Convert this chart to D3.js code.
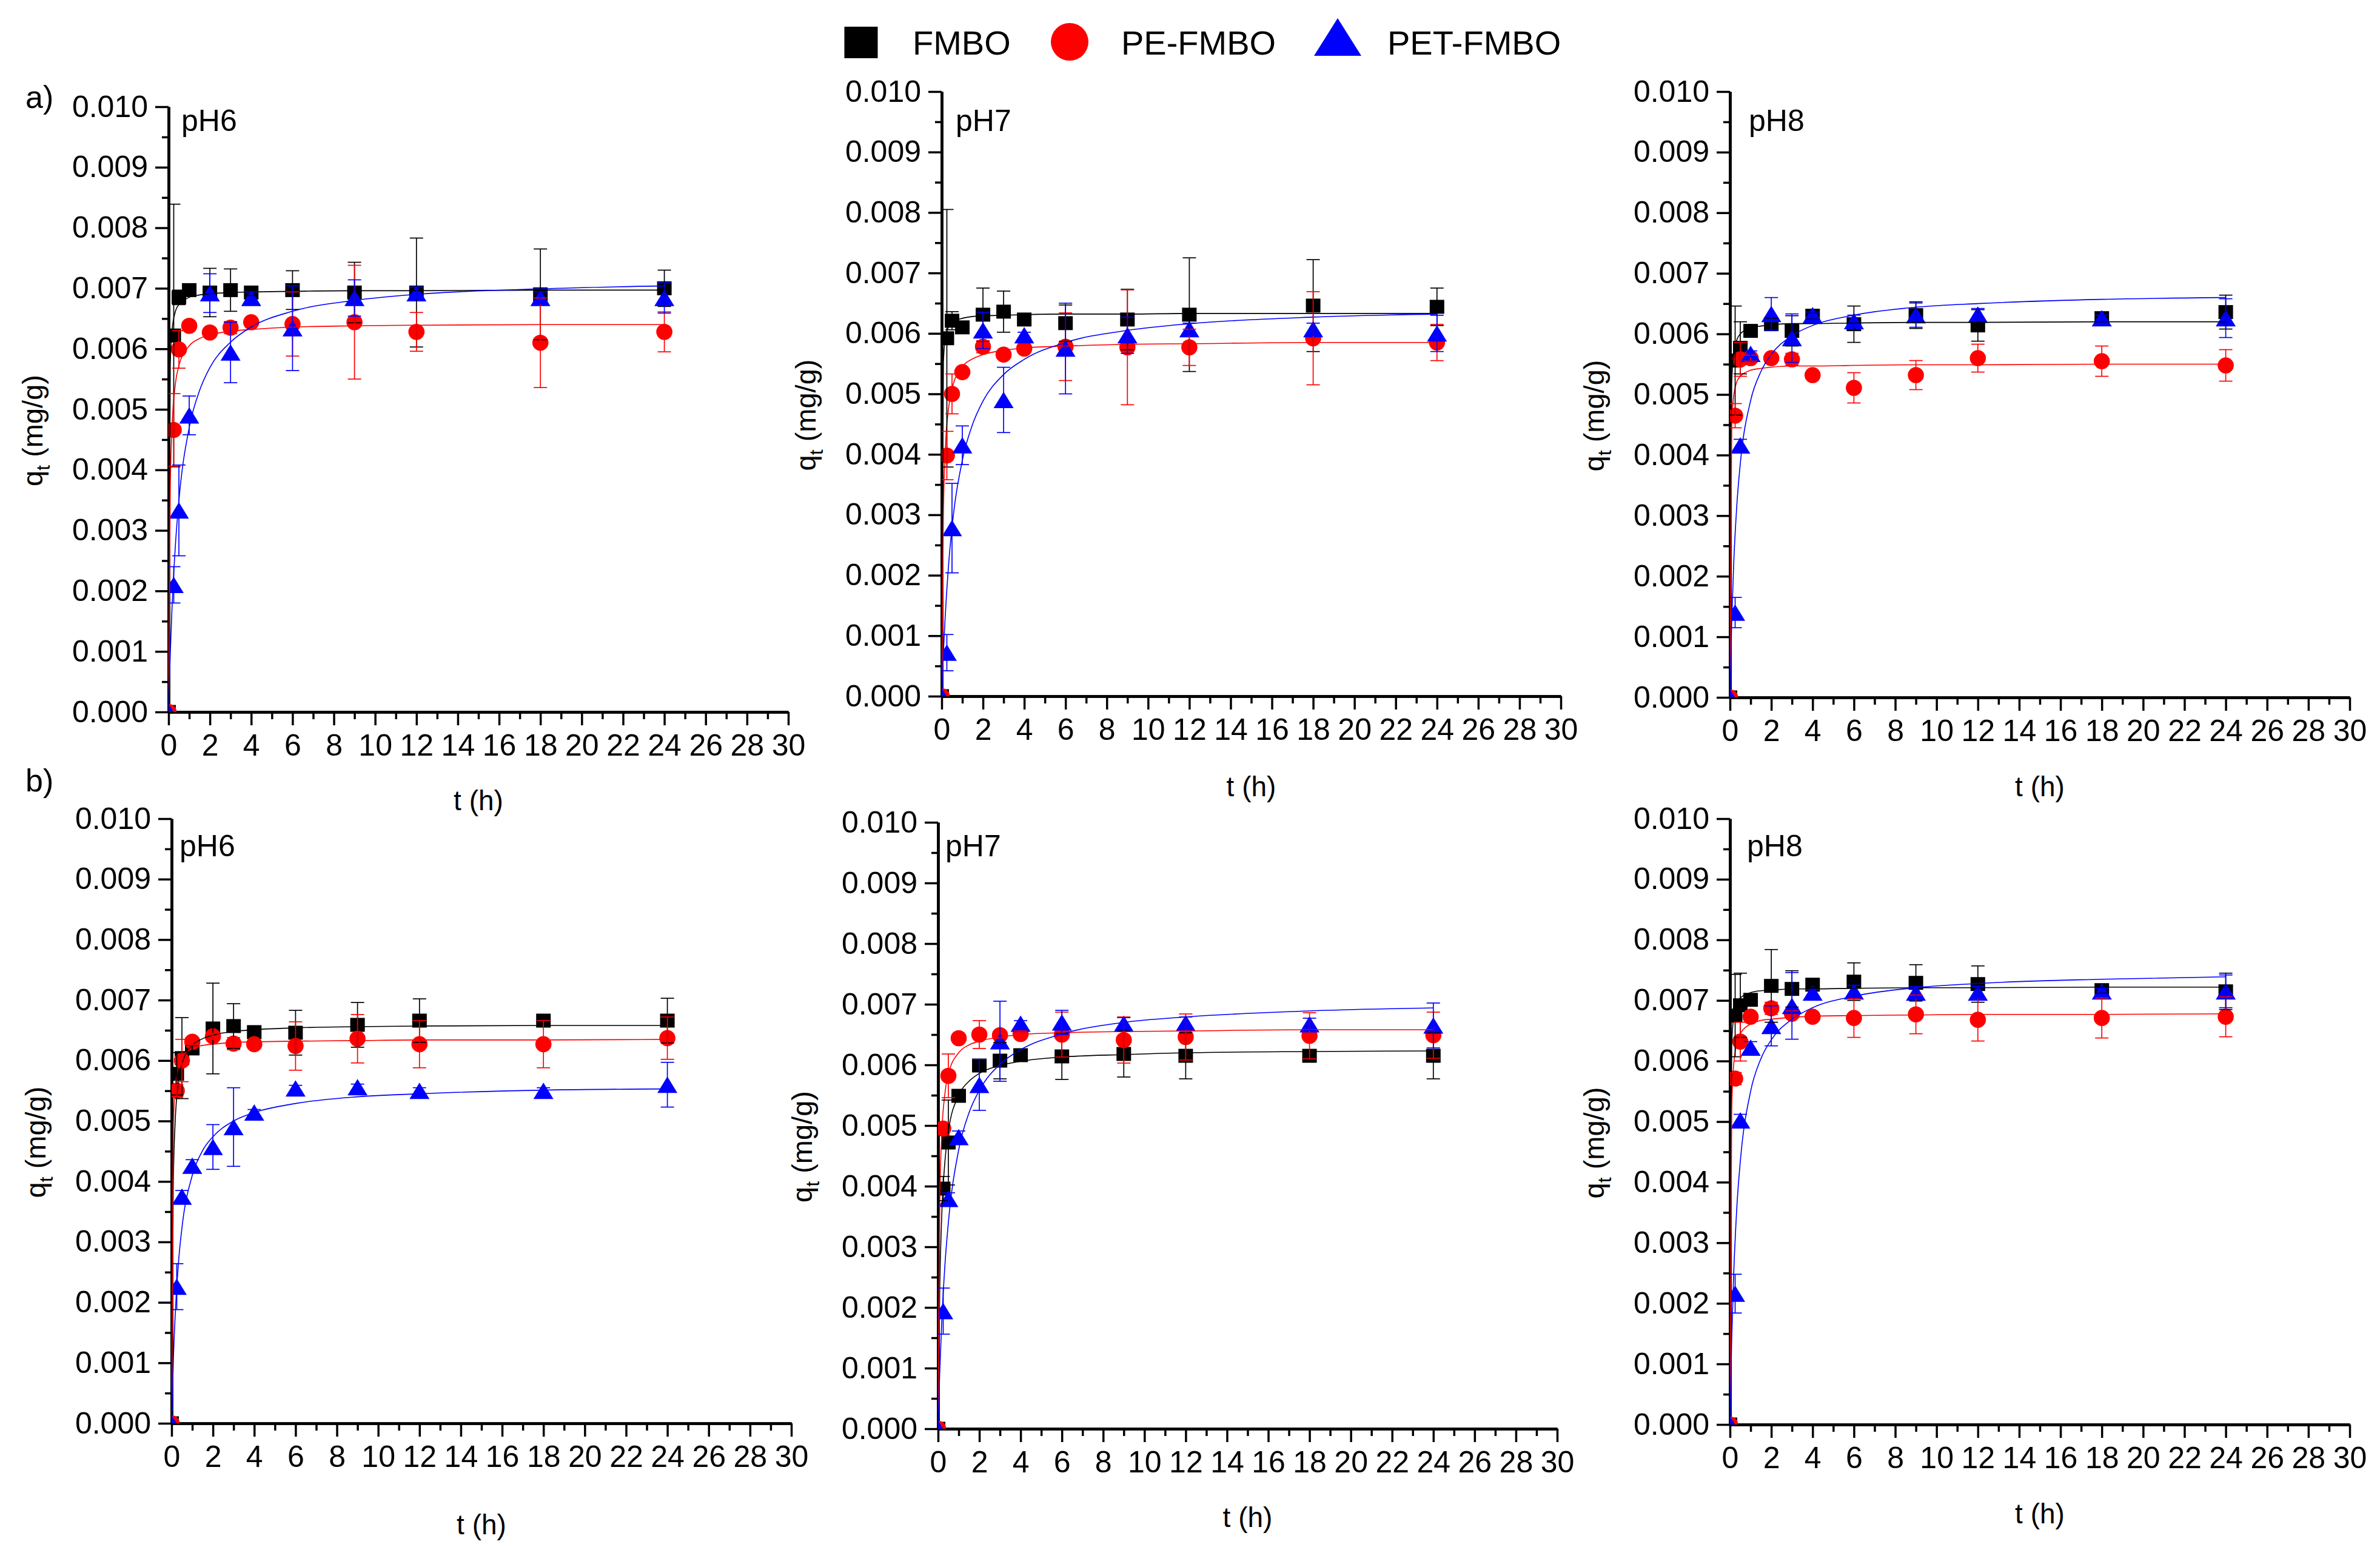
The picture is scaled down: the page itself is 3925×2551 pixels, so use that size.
<!DOCTYPE html>
<html>
<head>
<meta charset="utf-8">
<script src="https://cdn.jsdelivr.net/npm/d3@7/dist/d3.min.js"></script>
<style>
  body { margin: 0; background: #fff; }
  text { font-family: "Liberation Sans", Arial, sans-serif; }
</style>
</head>
<body>
<div id="container"></div>
<script>
// sampling times (h) and fitted-curve sampling times (h)
const times = [0, 0.25, 0.5, 1, 2, 3, 4, 6, 9, 12, 18, 24];
const fitTimes = [0, 0.083, 0.167, 0.333, 0.5, 1, 1.5, 2, 3, 4, 6, 9, 12, 18, 24];

const seriesNames = ['FMBO', 'PE-FMBO', 'PET-FMBO'];
const xTickLabels = ['0', '2', '4', '6', '8', '10', '12', '14', '16', '18', '20', '22', '24', '26', '28', '30'];
const yTickLabels = ['0.000', '0.001', '0.002', '0.003', '0.004', '0.005', '0.006', '0.007', '0.008', '0.009', '0.010'];

// all q values below are in 10^-3 mg/g, rows = FMBO, PE-FMBO, PET-FMBO
const qA6 = [
  [0, 6.22, 6.85, 6.97, 6.93, 6.97, 6.93, 6.97, 6.93, 6.93, 6.90, 7.00],
  [0, 4.66, 5.99, 6.38, 6.27, 6.35, 6.44, 6.41, 6.44, 6.28, 6.10, 6.28],
  [0, 2.10, 3.33, 4.90, 6.92, 5.94, 6.84, 6.34, 6.84, 6.92, 6.84, 6.84],
];
const errA6 = [
  [0, 2.17, 0.12, 0.05, 0.40, 0.35, 0.05, 0.32, 0.50, 0.90, 0.75, 0.30],
  [0, 0.60, 0.31, 0.05, 0.05, 0.10, 0.05, 0.53, 0.94, 0.32, 0.74, 0.33],
  [0, 0.30, 0.75, 0.32, 0.32, 0.50, 0.10, 0.70, 0.30, 0.10, 0.10, 0.25],
];
const fitA6 = [
  [0, 5.75, 6.30, 6.62, 6.73, 6.85, 6.89, 6.91, 6.93, 6.94, 6.95, 6.96, 6.96, 6.97, 6.97],
  [0, 3.70, 4.70, 5.43, 5.72, 6.05, 6.17, 6.23, 6.29, 6.32, 6.36, 6.38, 6.39, 6.40, 6.40],
  [0, 0.97, 1.72, 2.77, 3.49, 4.70, 5.31, 5.69, 6.11, 6.36, 6.62, 6.80, 6.90, 6.99, 7.04],
];

const qA7 = [
  [0, 5.92, 6.21, 6.10, 6.31, 6.36, 6.23, 6.17, 6.23, 6.31, 6.46, 6.44],
  [0, 3.98, 5.00, 5.36, 5.78, 5.65, 5.75, 5.78, 5.77, 5.77, 5.92, 5.85],
  [0, 0.72, 2.78, 4.15, 6.05, 4.90, 5.97, 5.75, 5.97, 6.07, 6.07, 6.00],
];
const errA7 = [
  [0, 2.13, 0.15, 0.05, 0.44, 0.34, 0.05, 0.30, 0.50, 0.94, 0.76, 0.31],
  [0, 0.40, 0.33, 0.05, 0.10, 0.05, 0.05, 0.56, 0.95, 0.30, 0.77, 0.30],
  [0, 0.30, 0.74, 0.32, 0.30, 0.54, 0.05, 0.75, 0.30, 0.10, 0.10, 0.30],
];
const fitA7 = [
  [0, 5.52, 5.90, 6.11, 6.18, 6.25, 6.28, 6.29, 6.30, 6.31, 6.32, 6.32, 6.33, 6.33, 6.33],
  [0, 3.02, 4.00, 4.76, 5.08, 5.45, 5.58, 5.65, 5.72, 5.76, 5.79, 5.82, 5.83, 5.85, 5.85],
  [0, 0.72, 1.30, 2.17, 2.79, 3.90, 4.50, 4.88, 5.32, 5.57, 5.85, 6.05, 6.16, 6.27, 6.32],
];

const qA8 = [
  [0, 5.56, 5.77, 6.05, 6.16, 6.05, 6.30, 6.16, 6.31, 6.14, 6.26, 6.36],
  [0, 4.65, 5.58, 5.60, 5.60, 5.58, 5.32, 5.11, 5.32, 5.60, 5.55, 5.48],
  [0, 1.40, 4.16, 5.67, 6.33, 5.93, 6.31, 6.21, 6.31, 6.32, 6.26, 6.26],
];
const errA8 = [
  [0, 0.90, 0.43, 0.05, 0.10, 0.25, 0.05, 0.30, 0.22, 0.26, 0.05, 0.28],
  [0, 0.20, 0.28, 0.05, 0.05, 0.10, 0.05, 0.25, 0.24, 0.23, 0.25, 0.26],
  [0, 0.25, 0.10, 0.05, 0.27, 0.40, 0.05, 0.10, 0.20, 0.10, 0.05, 0.32],
];
const fitA8 = [
  [0, 5.17, 5.64, 5.90, 6.00, 6.10, 6.13, 6.15, 6.17, 6.17, 6.18, 6.19, 6.19, 6.20, 6.20],
  [0, 4.48, 4.94, 5.21, 5.30, 5.40, 5.43, 5.45, 5.47, 5.47, 5.48, 5.49, 5.49, 5.50, 5.50],
  [0, 1.23, 2.09, 3.18, 3.86, 4.90, 5.38, 5.66, 5.97, 6.14, 6.31, 6.44, 6.50, 6.57, 6.60],
];

const qB6 = [
  [0, 5.78, 6.04, 6.20, 6.53, 6.57, 6.47, 6.46, 6.59, 6.66, 6.66, 6.66],
  [0, 5.50, 6.00, 6.31, 6.40, 6.28, 6.27, 6.24, 6.36, 6.27, 6.27, 6.37],
  [0, 2.26, 3.75, 4.26, 4.57, 4.90, 5.14, 5.54, 5.56, 5.50, 5.50, 5.60],
];
const errB6 = [
  [0, 0.35, 0.67, 0.05, 0.75, 0.37, 0.05, 0.37, 0.37, 0.36, 0.05, 0.37],
  [0, 0.10, 0.35, 0.05, 0.05, 0.10, 0.05, 0.40, 0.40, 0.39, 0.39, 0.35],
  [0, 0.38, 0.10, 0.10, 0.37, 0.65, 0.05, 0.05, 0.05, 0.05, 0.05, 0.37],
];
const fitB6 = [
  [0, 3.95, 4.95, 5.65, 5.94, 6.25, 6.36, 6.42, 6.48, 6.51, 6.54, 6.56, 6.57, 6.58, 6.58],
  [0, 4.88, 5.52, 5.91, 6.05, 6.20, 6.25, 6.27, 6.30, 6.31, 6.32, 6.33, 6.34, 6.34, 6.35],
  [0, 1.03, 1.74, 2.66, 3.23, 4.10, 4.51, 4.74, 5.00, 5.14, 5.29, 5.40, 5.45, 5.51, 5.53],
];

const qB7 = [
  [0, 3.96, 4.72, 5.49, 5.99, 6.07, 6.16, 6.14, 6.18, 6.15, 6.15, 6.15],
  [0, 4.95, 5.82, 6.44, 6.50, 6.49, 6.51, 6.50, 6.41, 6.46, 6.48, 6.49],
  [0, 1.94, 3.79, 4.81, 5.67, 6.39, 6.68, 6.70, 6.68, 6.69, 6.67, 6.65],
];
const errB7 = [
  [0, 0.20, 0.70, 0.10, 0.10, 0.30, 0.05, 0.38, 0.38, 0.38, 0.10, 0.38],
  [0, 0.10, 0.36, 0.05, 0.23, 0.05, 0.05, 0.37, 0.38, 0.38, 0.38, 0.38],
  [0, 0.38, 0.10, 0.10, 0.42, 0.66, 0.05, 0.20, 0.10, 0.10, 0.10, 0.37],
];
const fitB7 = [
  [0, 2.34, 3.41, 4.41, 4.90, 5.50, 5.73, 5.86, 5.99, 6.06, 6.13, 6.17, 6.20, 6.22, 6.23],
  [0, 3.72, 4.76, 5.53, 5.85, 6.20, 6.33, 6.39, 6.46, 6.50, 6.53, 6.55, 6.56, 6.58, 6.58],
  [0, 0.94, 1.67, 2.70, 3.40, 4.60, 5.21, 5.58, 6.01, 6.25, 6.51, 6.70, 6.79, 6.89, 6.94],
];

const qB8 = [
  [0, 6.75, 6.92, 7.01, 7.24, 7.19, 7.26, 7.31, 7.29, 7.27, 7.17, 7.15],
  [0, 5.71, 6.32, 6.73, 6.87, 6.78, 6.73, 6.71, 6.77, 6.68, 6.71, 6.73],
  [0, 2.16, 5.02, 6.22, 6.58, 6.91, 7.13, 7.15, 7.13, 7.13, 7.15, 7.15],
];
const errB8 = [
  [0, 0.68, 0.53, 0.05, 0.60, 0.30, 0.05, 0.31, 0.30, 0.30, 0.05, 0.30],
  [0, 0.10, 0.32, 0.05, 0.10, 0.05, 0.05, 0.32, 0.32, 0.35, 0.33, 0.33],
  [0, 0.32, 0.10, 0.10, 0.33, 0.55, 0.05, 0.10, 0.10, 0.10, 0.05, 0.27],
];
const fitB8 = [
  [0, 6.25, 6.70, 6.95, 7.04, 7.13, 7.16, 7.17, 7.19, 7.19, 7.20, 7.21, 7.21, 7.22, 7.22],
  [0, 5.18, 5.88, 6.30, 6.45, 6.61, 6.67, 6.69, 6.72, 6.74, 6.75, 6.76, 6.77, 6.77, 6.78],
  [0, 1.40, 2.36, 3.59, 4.34, 5.50, 6.04, 6.35, 6.69, 6.88, 7.07, 7.21, 7.28, 7.35, 7.39],
];

// ---- layout ----
const W = 3925, H = 2551;
const colors = ['#000000', '#ff0000', '#0000ff'];
const font = '"Liberation Sans", Arial, sans-serif';

const panels = [
  { ph: 'pH6', q: qA6, err: errA6, fit: fitA6, x0: 278, x1: 1300, yTop: 176, yBot: 1174, phDx: 21, phY: 216, xlY: 1336 },
  { ph: 'pH7', q: qA7, err: errA7, fit: fitA7, x0: 1553, x1: 2574, yTop: 151, yBot: 1148, phDx: 23, phY: 216, xlY: 1313 },
  { ph: 'pH8', q: qA8, err: errA8, fit: fitA8, x0: 2853, x1: 3875, yTop: 151, yBot: 1150, phDx: 31, phY: 216, xlY: 1313 },
  { ph: 'pH6', q: qB6, err: errB6, fit: fitB6, x0: 283, x1: 1305, yTop: 1350, yBot: 2347, phDx: 13, phY: 1412, xlY: 2530 },
  { ph: 'pH7', q: qB7, err: errB7, fit: fitB7, x0: 1547, x1: 2568, yTop: 1356, yBot: 2356, phDx: 12, phY: 1412, xlY: 2518 },
  { ph: 'pH8', q: qB8, err: errB8, fit: fitB8, x0: 2853, x1: 3875, yTop: 1350, yBot: 2349, phDx: 28, phY: 1412, xlY: 2512 },
];

const svg = d3
  .select('#container')
  .append('svg')
  .attr('width', W)
  .attr('height', H)
  .style('background', '#fff');

const xTickVals = xTickLabels.map(Number);
const yTickVals = yTickLabels.map(Number);
const xMinor = d3.range(1, 30, 2);
const yMinor = d3.range(0, 10).map(i => (i + 0.5) / 1000);

const triangle = (w, h) =>
  'M0,' + -h / 2 + 'L' + w / 2 + ',' + h / 2 + 'L' + -w / 2 + ',' + h / 2 + 'Z';

function drawMarker(g, k, x, y, big) {
  if (k === 0) {
    const s = big ? 55 : 24;
    const sh = big ? 52 : 23;
    g.append('rect')
      .attr('x', x - s / 2)
      .attr('y', y - sh / 2)
      .attr('width', s)
      .attr('height', sh)
      .attr('fill', colors[0]);
  } else if (k === 1) {
    g.append('circle')
      .attr('cx', x)
      .attr('cy', y)
      .attr('r', big ? 31 : 13.3)
      .attr('fill', colors[1]);
  } else {
    g.append('path')
      .attr('transform', 'translate(' + x + ',' + y + ')')
      .attr('d', big ? triangle(78, 62) : triangle(33, 27))
      .attr('fill', colors[2]);
  }
}

panels.forEach((p, pi) => {
  const xScale = d3.scaleLinear().domain([0, 30]).range([p.x0, p.x1]);
  const yScale = d3.scaleLinear().domain([0, 0.01]).range([p.yBot, p.yTop]);
  const g = svg.append('g');

  // axes
  const yMajor = d3
    .axisLeft(yScale)
    .tickValues(yTickVals)
    .tickFormat((d, i) => yTickLabels[i])
    .tickSizeInner(22)
    .tickSizeOuter(0)
    .tickPadding(12);
  const yMin = d3.axisLeft(yScale).tickValues(yMinor).tickFormat('').tickSizeInner(11).tickSizeOuter(0);
  const xMajor = d3
    .axisBottom(xScale)
    .tickValues(xTickVals)
    .tickFormat((d, i) => xTickLabels[i])
    .tickSizeInner(22)
    .tickSizeOuter(0)
    .tickPadding(14);
  const xMin = d3.axisBottom(xScale).tickValues(xMinor).tickFormat('').tickSizeInner(12).tickSizeOuter(0);

  [
    [yMin, 'translate(' + p.x0 + ',0)'],
    [yMajor, 'translate(' + p.x0 + ',0)'],
    [xMin, 'translate(0,' + p.yBot + ')'],
    [xMajor, 'translate(0,' + p.yBot + ')'],
  ].forEach(([ax, tr]) => {
    const a = g.append('g').attr('transform', tr).call(ax);
    a.attr('font-family', font).attr('font-size', 50);
    a.selectAll('.domain').attr('stroke', '#000').attr('stroke-width', 4.5);
    a.selectAll('.tick line').attr('stroke', '#000').attr('stroke-width', 3.5);
    a.selectAll('.tick text').attr('fill', '#000');
  });

  // clip to the plot area
  const clipId = 'clip' + pi;
  svg
    .append('clipPath')
    .attr('id', clipId)
    .append('rect')
    .attr('x', p.x0)
    .attr('y', p.yTop - 60)
    .attr('width', p.x1 - p.x0 + 60)
    .attr('height', p.yBot - p.yTop + 60);
  const plot = g.append('g').attr('clip-path', 'url(#' + clipId + ')');

  // symbols
  const sym = plot.append('g');
  for (let k = 0; k < 3; k++) {
    times.forEach((t, i) => drawMarker(sym, k, xScale(t), yScale(p.q[k][i] / 1000), false));
  }

  // fitted curves
  const line = d3
    .line()
    .x((d, i) => xScale(fitTimes[i]))
    .y(d => yScale(d / 1000))
    .curve(d3.curveMonotoneX);
  for (let k = 0; k < 3; k++) {
    plot
      .append('path')
      .attr('d', line(p.fit[k]))
      .attr('fill', 'none')
      .attr('stroke', colors[k])
      .attr('stroke-width', 1.6);
  }

  // error bars
  for (let k = 0; k < 3; k++) {
    const eb = plot.append('g').attr('stroke', colors[k]).attr('stroke-width', 1.7);
    times.forEach((t, i) => {
      const e = p.err[k][i];
      if (!e) return;
      const cx = xScale(t);
      const lo = yScale((p.q[k][i] - e) / 1000);
      const hi = yScale((p.q[k][i] + e) / 1000);
      eb.append('line').attr('x1', cx).attr('x2', cx).attr('y1', lo).attr('y2', hi);
      eb.append('line').attr('x1', cx - 11).attr('x2', cx + 11).attr('y1', lo).attr('y2', lo);
      eb.append('line').attr('x1', cx - 11).attr('x2', cx + 11).attr('y1', hi).attr('y2', hi);
    });
  }

  // texts
  g.append('text')
    .attr('x', p.x0 + p.phDx)
    .attr('y', p.phY)
    .attr('font-size', 50)
    .text(p.ph);

  g.append('text')
    .attr('x', (p.x0 + p.x1) / 2)
    .attr('y', p.xlY)
    .attr('text-anchor', 'middle')
    .attr('font-size', 46)
    .text('t (h)');

  const yl = g
    .append('text')
    .attr('transform', 'translate(' + (p.x0 - 208) + ',' + ((p.yTop + p.yBot) / 2 + 35) + ') rotate(-90)')
    .attr('text-anchor', 'middle')
    .attr('font-size', 47);
  yl.append('tspan').text('q');
  yl.append('tspan').attr('font-size', 32).attr('dy', 12).text('t');
  yl.append('tspan').attr('dy', -12).text(' (mg/g)');
});

// row labels
svg.append('text').attr('x', 42).attr('y', 178).attr('font-size', 52).text('a)');
svg.append('text').attr('x', 42).attr('y', 1305).attr('font-size', 52).text('b)');

// legend
const legend = svg.append('g').attr('font-size', 56);
const legendItems = [
  { mx: 1420, my: 70, tx: 1505 },
  { mx: 1764, my: 69, tx: 1849 },
  { mx: 2206, my: 61, tx: 2288 },
];
legendItems.forEach((it, k) => {
  drawMarker(legend, k, it.mx, it.my, true);
  legend.append('text').attr('x', it.tx).attr('y', 90).text(seriesNames[k]);
});
</script>
</body>
</html>
